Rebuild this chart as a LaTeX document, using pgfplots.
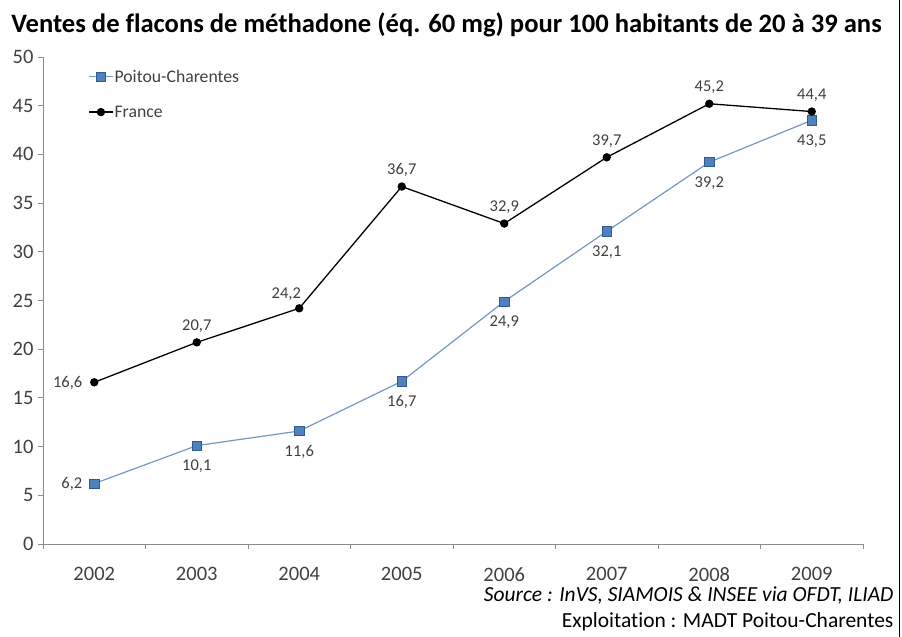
\documentclass[border=0pt]{standalone}
\usepackage{pgfplots}
\pgfplotsset{compat=1.18}
\usepackage{fontspec}
\setmainfont{Carlito}[Ligatures=NoCommon]
\definecolor{pcline}{HTML}{7397C8}
\definecolor{pcfill}{HTML}{4F81BD}
\definecolor{pcdraw}{HTML}{2E5C92}
\definecolor{axgray}{HTML}{8C8C8C}
\definecolor{txt}{HTML}{404040}

% label placements: below, above, above-left, left
\newcommand\lB[1]{\makebox[0pt][c]{\raisebox{-25pt}[0pt][0pt]{#1}}}
\newcommand\lA[1]{\makebox[0pt][c]{\raisebox{12pt}[0pt][0pt]{#1}}}
\newcommand\lAL[1]{\makebox[0pt][c]{\raisebox{10pt}[0pt][0pt]{\hspace*{-26pt}#1}}}
\newcommand\lL[1]{\makebox[0pt][r]{\raisebox{-5pt}[0pt][0pt]{#1\hspace*{12pt}}}}

\begin{document}
\begin{tikzpicture}[x=1pt,y=1pt]
\useasboundingbox (0,0) rectangle (902,637);
\node[font=\fontsize{26.6}{30}\selectfont\bfseries] at (446.5,612) {Ventes de flacons de méthadone (éq. 60 mg) pour 100 habitants de 20 à 39 ans};
\begin{axis}[
  at={(43pt,93pt)}, anchor=south west,
  scale only axis, width=820pt, height=487pt,
  xmin=-0.5, xmax=7.5, ymin=0, ymax=50,
  ytick={0,5,...,50},
  xtick={0,...,7}, xticklabels={2002,2003,2004,2005,2006,2007,2008,2009},
  minor xtick={-0.5,0.5,...,7.5},
  axis x line*=bottom, axis y line*=left,
  axis line style={axgray, line width=0.8pt, -},
  tick style={axgray, line width=0.8pt},
  major x tick style={draw=none},
  tick align=outside, major tick length=5pt, minor tick length=5pt,
  tick label style={font=\fontsize{20.5}{24}\selectfont, text=txt},
  xticklabel style={yshift=-15pt},
  yticklabel style={xshift=-1pt},
  /pgf/number format/assume math mode=true,
  clip=false,
  legend cell align=left,
  legend style={draw=none, fill=none, at={(axis description cs:0.055,0.976)}, anchor=north west,
    font=\fontsize{17.7}{21}\selectfont, text=txt, row sep=20pt, inner sep=0pt,
    nodes={inner sep=1pt}},
  legend image code/.code={\draw[mark repeat=2,mark phase=2,#1] plot coordinates {(0pt,0pt) (12pt,0pt) (24pt,0pt)};},
  every node near coord/.append style={font=\fontsize{16.5}{20}\selectfont, text=txt, anchor=base, inner sep=0pt},
]
\addplot[pcline, line width=1.2pt, mark=square*, mark size=4.6pt,
    mark options={fill=pcfill, draw=pcdraw, line width=0.6pt},
    nodes near coords, point meta=explicit symbolic]
  coordinates {(0,6.2)[\lL{6,2}] (1,10.1)[\lB{10,1}] (2,11.6)[\lB{11,6}] (3,16.7)[\lB{16,7}]
    (4,24.9)[\lB{24,9}] (5,32.1)[\lB{32,1}] (6,39.2)[\lB{39,2}] (7,43.5)[\lB{43,5}]};
\addlegendentry{Poitou-Charentes}
\addplot[black, line width=1.3pt, mark=*, mark size=3.5pt, mark options={fill=black},
    nodes near coords, point meta=explicit symbolic]
  coordinates {(0,16.6)[\lL{16,6}] (1,20.7)[\lA{20,7}] (2,24.2)[\lAL{24,2}] (3,36.7)[\lA{36,7}]
    (4,32.9)[\lA{32,9}] (5,39.7)[\lA{39,7}] (6,45.2)[\lA{45,2}] (7,44.4)[\lA{44,4}]};
\addlegendentry{France}
\end{axis}
\node[anchor=east, font=\fontsize{21.5}{25}\selectfont\itshape] at (897,42) {Source : InVS, SIAMOIS \& INSEE via OFDT, ILIAD};
\node[anchor=east, font=\fontsize{21.5}{25}\selectfont] at (897,15) {Exploitation : MADT Poitou-Charentes};
\draw[line width=1.5pt] (899.5,0) -- (899.5,637);
\end{tikzpicture}
\end{document}
